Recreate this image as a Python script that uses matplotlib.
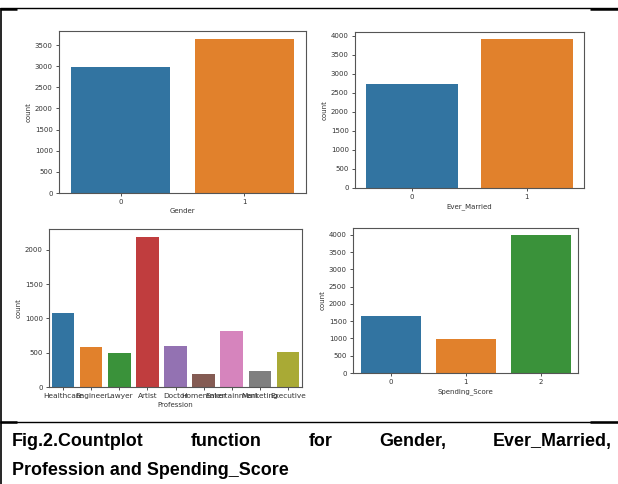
import matplotlib
matplotlib.use("Agg")
import matplotlib.pyplot as plt
from matplotlib.lines import Line2D
from matplotlib import font_manager

# Count data for each categorical column
gender_labels = ["0", "1"]
gender_counts = [2990, 3650]

married_labels = ["0", "1"]
married_counts = [2730, 3900]

profession_labels = ["Healthcare", "Engineer", "Lawyer", "Artist", "Doctor",
                     "Homemaker", "Entertainment", "Marketing", "Executive"]
profession_counts = [1077, 580, 497, 2193, 594, 188, 816, 236, 505]

spending_labels = ["0", "1", "2"]
spending_counts = [1640, 995, 4000]

palette = ["#3274a1", "#e1812c", "#3a923a", "#c03d3e", "#9372b2",
           "#845b53", "#d684bd", "#7f7f7f", "#a9aa35"]

caption_line1 = ["Fig.2.Countplot", "function", "for", "Gender,", "Ever_Married,"]
caption_line2 = "Profession and Spending_Score"

W, H = 618, 484
fig = plt.figure(figsize=(W / 100, H / 100), dpi=100)
fig.patch.set_facecolor("white")


def px_axes(left, top, right, bottom):
    return fig.add_axes([left / W, 1 - bottom / H, (right - left) / W, (bottom - top) / H])


def countplot(ax, labels, counts, xlabel):
    x = range(len(labels))
    ax.bar(x, counts, width=0.8, color=palette[:len(labels)])
    ax.set_xlim(-0.5, len(labels) - 0.5)
    ax.set_xticks(list(x))
    ax.set_xticklabels(labels)
    ax.set_xlabel(xlabel, fontsize=5, color="#333333", labelpad=2)
    ax.set_ylabel("count", fontsize=5, color="#333333", labelpad=2)
    ax.tick_params(labelsize=5, length=2.5, width=0.6, pad=2, colors="#333333")
    for s in ax.spines.values():
        s.set_color("#555555")
        s.set_linewidth(0.8)


ax1 = px_axes(59, 31, 306, 193)
countplot(ax1, gender_labels, gender_counts, "Gender")
ax1.set_yticks(range(0, 3501, 500))

ax2 = px_axes(355, 32, 584, 188)
countplot(ax2, married_labels, married_counts, "Ever_Married")
ax2.set_yticks(range(0, 4001, 500))

ax3 = px_axes(49, 229, 302, 387)
countplot(ax3, profession_labels, profession_counts, "Profession")
ax3.set_yticks(range(0, 2001, 500))
ax3.tick_params(axis="x", labelsize=5.3)

ax4 = px_axes(353, 228, 578, 373)
countplot(ax4, spending_labels, spending_counts, "Spending_Score")
ax4.set_yticks(range(0, 4001, 500))


# Table frame lines (pixel coordinates from top-left)
def hline(x0, x1, y, lw):
    fig.add_artist(Line2D([x0 / W, x1 / W], [1 - y / H, 1 - y / H],
                          transform=fig.transFigure, color="black", lw=lw,
                          solid_capstyle="butt"))


def vline(x, y0, y1, lw):
    fig.add_artist(Line2D([x / W, x / W], [1 - y0 / H, 1 - y1 / H],
                          transform=fig.transFigure, color="black", lw=lw,
                          solid_capstyle="butt"))


hline(0, 618, 8, 1.0)
hline(0, 17, 9, 1.8)
hline(590, 618, 9, 1.8)
hline(0, 618, 421.5, 1.0)
hline(0, 17, 422, 1.8)
hline(590, 618, 422, 1.8)
vline(1.2, 8, 484, 1.2)

# Caption
available = {f.name for f in font_manager.fontManager.ttflist}
cap_family = "Liberation Sans Narrow" if "Liberation Sans Narrow" in available else "Liberation Sans"
cap_size = 12.9

renderer = fig.canvas.get_renderer()
x_left, x_right = 12, 612
base1, base2 = 446, 475

words = []
for w in caption_line1:
    t = fig.text(0, 1 - base1 / H, w, fontsize=cap_size, fontweight="bold",
                 family=cap_family, va="baseline", ha="left")
    words.append(t)
widths = [t.get_window_extent(renderer).width for t in words]
gap = (x_right - x_left - sum(widths)) / (len(words) - 1)
x = x_left
for t, wd in zip(words, widths):
    t.set_x(x / W)
    x += wd + gap

fig.text(x_left / W, 1 - base2 / H, caption_line2, fontsize=cap_size,
         fontweight="bold", family=cap_family, va="baseline", ha="left")

fig.savefig("out.png", dpi=100, facecolor="white")
